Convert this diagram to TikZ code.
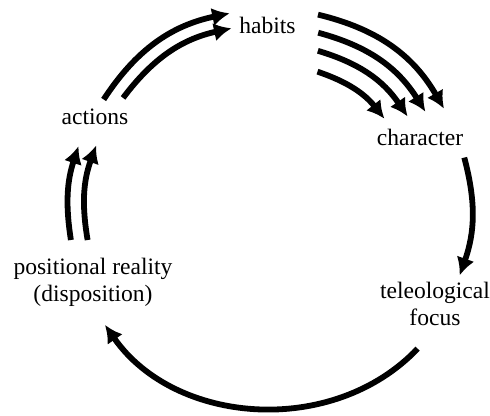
\documentclass[tikz,border=0pt]{standalone}
\usepackage{fontspec}
\setmainfont{Liberation Serif}
\newfontfamily\cyclefont{Liberation Serif}
\usetikzlibrary{arrows.meta}
\tikzset{
    every node/.style={
        font=\cyclefont\fontsize{13.4}{15.3}\selectfont},
    stage/.style={anchor=base},
    twoline/.style={align=center},
    every edge/.style={
        draw,
        -{Latex[length=10pt,width=10.5pt]},
        line width=3.3pt}}

\begin{document}
\begin{tikzpicture}
        \useasboundingbox (-5.42,-4.12) rectangle (4.38,4.18);

        \node[stage] (habits) at (-0.07,3.52) {habits};
        \node[stage] (actions) at (-3.52,1.70) {actions};
        \node[stage] (character) at (2.98,1.28) {character};
        \node[twoline] (focus) at (3.28,-1.89) {teleological\\focus};
        \node[twoline] (reality) at (-3.56,-1.47) {positional reality\\(disposition)};

        % ends of the arrows, on circles round the middle
        \coordinate (ah1) at (146.8:4.0);  \coordinate (ha1) at (101.9:4.0);
        \coordinate (ah2) at (143.1:3.7);  \coordinate (ha2) at (102.3:3.7);
        \coordinate (ra1) at (188.8:4.05); \coordinate (ar1) at (161.9:4.05);
        \coordinate (ra2) at (189.6:3.72); \coordinate (ar2) at (160.0:3.72);
        \coordinate (hc1) at (76.4:4.0);   \coordinate (ch1) at (30.1:4.0);
        \coordinate (hc2) at (75.0:3.65);  \coordinate (ch2) at (32.2:3.65);
        \coordinate (hc3) at (73.5:3.3);   \coordinate (ch3) at (34.1:3.3);
        \coordinate (hc4) at (71.3:2.9);   \coordinate (ch4) at (38.5:2.9);
        \coordinate (cf) at (14.9:4.0);    \coordinate (fc) at (-19.4:4.0);
        \coordinate (fr) at (-43.6:4.05);  \coordinate (rf) at (-145.1:4.05);

        \draw (ah1) edge[bend left=22.5] (ha1);
        \draw (ah2) edge[bend left=20.4] (ha2);
        \draw (ra1) edge[bend left=13.5] (ar1);
        \draw (ra2) edge[bend left=14.8] (ar2);
        \draw (hc1) edge[bend left=23.2] (ch1);
        \draw (hc2) edge[bend left=21.4] (ch2);
        \draw (hc3) edge[bend left=19.7] (ch3);
        \draw (hc4) edge[bend left=16.4] (ch4);
        \draw (cf) edge[bend left=17.2] (fc);
        \draw (fr) edge[bend left=50.8] (rf);
    \end{tikzpicture}
\end{document}
